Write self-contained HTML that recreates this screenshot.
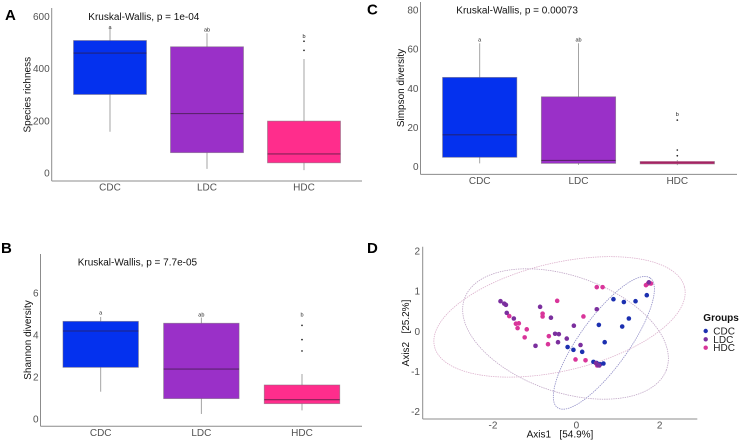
<!DOCTYPE html>
<html>
<head>
<meta charset="utf-8">
<style>
html,body{margin:0;padding:0;background:#fff;}
svg{display:block;font-family:"Liberation Sans",sans-serif;filter:blur(0.35px);}
.tick{font-size:10px;fill:#525252;}
.title{font-size:10px;fill:#111;}
.axt{font-size:10px;fill:#111;}
.lab{font-size:15px;font-weight:bold;fill:#000;}
</style>
</head>
<body>
<svg id="fig" width="740" height="441" viewBox="0 0 740 441" xmlns="http://www.w3.org/2000/svg">
  <rect width="740" height="441" fill="#fff"/>
  <text class="lab" x="5" y="20">A</text>
  <text class="lab" x="1" y="253">B</text>
  <text class="lab" x="367" y="14.5">C</text>
  <text class="lab" x="367" y="253">D</text>

  <text class="title" x="88.3" y="20">Kruskal-Wallis, p = 1e-04</text>
  <text class="title" x="77.7" y="265.5">Kruskal-Wallis, p = 7.7e-05</text>
  <text class="title" x="456.3" y="13.5">Kruskal-Wallis, p = 0.00073</text>

  <text class="axt" text-anchor="middle" transform="translate(30.5,94.7) rotate(-90)">Species richness</text>
  <text class="axt" text-anchor="middle" transform="translate(31,340) rotate(-90)">Shannon diversity</text>
  <text class="axt" text-anchor="middle" transform="translate(404,88) rotate(-90)">Simpson diversity</text>
  <text class="axt" text-anchor="middle" transform="translate(409,333) rotate(-90)" xml:space="preserve">Axis2   [25.2%]</text>
  <text class="axt" text-anchor="middle" x="560" y="437.5" xml:space="preserve">Axis1   [54.9%]</text>

  <g id="legend">
    <text x="703.3" y="321" font-size="10" font-weight="bold" fill="#111">Groups</text>
    <circle cx="705.7" cy="331" r="2.2" fill="#1c30b0"/>
    <text x="713.3" y="334.5" font-size="10" fill="#222">CDC</text>
    <circle cx="705.7" cy="339.3" r="2.2" fill="#7b2f9e"/>
    <text x="713.3" y="342.8" font-size="10" fill="#222">LDC</text>
    <circle cx="705.7" cy="347.7" r="2.2" fill="#d9359a"/>
    <text x="713.3" y="351.2" font-size="10" fill="#222">HDC</text>
  </g>
</svg>
<script>
// Box plot data
const categories = ['CDC', 'LDC', 'HDC'];

const richnessTicks = [0, 200, 400, 600];
const richnessLow = [158, 16, 11];
const richnessQ1 = [301, 78, 39];
const richnessMedian = [460, 228, 73];
const richnessQ3 = [508, 484, 199];
const richnessHigh = [553, 536, 437];
const richnessOutliers = [[], [], [470, 505]];
const richnessLetters = ['a', 'ab', 'b'];

const shannonTicks = [0, 2, 4, 6];
const shannonLow = [1.3, 0.24, 0.41];
const shannonQ1 = [2.46, 0.97, 0.73];
const shannonMedian = [4.19, 2.38, 0.92];
const shannonQ3 = [4.65, 4.56, 1.62];
const shannonHigh = [4.86, 4.83, 2.14];
const shannonOutliers = [[], [], [3.24, 3.78, 4.46]];
const shannonLetters = ['a', 'ab', 'b'];

const simpsonTicks = [0, 20, 40, 60, 80];
const simpsonLow = [1.7, 0.9, 0.8];
const simpsonQ1 = [4.8, 1.7, 1.4];
const simpsonMedian = [16.3, 3.2, 2.0];
const simpsonQ3 = [45.6, 35.7, 2.7];
const simpsonHigh = [63, 63, 3.4];
const simpsonOutliers = [[], [], [5.6, 8.5, 23.8]];
const simpsonLetters = ['a', 'ab', 'b'];

// Ordination data
const ordinationXTicks = [-2, 0, 2];
const ordinationYTicks = [-2, -1, 0, 1, 2];
const cdcAxis1 = [0.89, 1.14, 1.42, 1.69, 0.54, 1.26, 1.10, 0.68, -0.21, -0.07, 0.14, 0.41, 0.57, 0.65, 0.49];
const cdcAxis2 = [0.80, 0.73, 0.75, 0.90, 0.16, 0.32, 0.12, -0.27, -0.39, -0.46, -0.51, -0.76, -0.82, -0.80, -0.79];
const ldcAxis1 = [-1.82, -1.73, -1.69, -1.67, -1.50, -0.87, -0.61, 0.49, -0.06, -0.23, -0.51, -0.42, -0.44, -0.98, 0.10, 0.47, 0.52, 0.55, 1.74];
const ldcAxis2 = [0.75, 0.69, 0.66, 0.46, 0.32, 0.61, 0.34, 0.55, 0.14, -0.18, -0.06, -0.07, -0.27, -0.36, -0.34, -0.79, -0.84, -0.85, 1.22];
const hdcAxis1 = [-0.46, 0.49, 0.63, 1.67, 1.72, 1.79, -1.61, -1.45, -1.38, -1.41, -1.19, -1.24, -0.81, -0.81, 0.17, -0.66, -0.68, -0.02, 0.22, 0.50];
const hdcAxis2 = [0.76, 1.10, 1.10, 1.15, 1.19, 1.19, 0.38, 0.19, 0.20, 0.08, 0.05, -0.15, 0.44, 0.37, 0.37, -0.12, -0.32, -0.70, -0.72, -0.85];
// Confidence ellipses: centre axis1, centre axis2, semi-major, semi-minor, tilt in degrees
const cdcEllipse = [0.66, -0.286, 1.96, 0.60, 55.6];
const ldcEllipse = [-0.26, -0.066, 2.58, 1.44, -20.5];
const hdcEllipse = [-0.404, 0.36, 3.09, 1.34, 14];

const SVGNS = 'http://www.w3.org/2000/svg';
const fig = document.getElementById('fig');
const boxFill = ['#0431ee', '#9a30c8', '#ff2d8c'];

function mk(tag, parent, attrs) {
  const el = document.createElementNS(SVGNS, tag);
  for (const k in attrs) el.setAttribute(k, attrs[k]);
  parent.appendChild(el);
  return el;
}
function linear(d0, d1, r0, r1) {
  return v => r0 + (v - d0) * (r1 - r0) / (d1 - d0);
}
function drawAxes(g, key, left, top, bottom, right) {
  const yl = mk('line', g, {x1: left, x2: left, y1: top, y2: bottom, stroke: '#8c8c8c', 'stroke-width': 1});
  
  
  const xl = mk('line', g, {x1: left, x2: right, y1: bottom, y2: bottom, stroke: '#8c8c8c', 'stroke-width': 1});
  
  
}
function drawBoxPanel(p) {
  const g = mk('g', fig, {});
  
  
  const x = linear(0, 2, p.x0, p.x2);
  const y = linear(p.ticks[0], p.ticks[p.ticks.length - 1], p.yBase, p.yTop);
  drawAxes(g, p.key, p.left, p.axisTop, p.axisBottom, p.right);
  p.ticks.forEach(t => {
    const tl = mk('text', g, {x: p.left - 2, y: y(t) + 3.5, 'text-anchor': 'end', class: 'tick'});
    
    
    tl.textContent = t;
  });
  categories.forEach((c, i) => {
    const cx = x(i);
    const tl = mk('text', g, {x: cx, y: p.labelY, 'text-anchor': 'middle', class: 'tick'});
    
    
    tl.textContent = c;

    const wh = mk('line', g, {x1: cx, x2: cx, y1: y(p.low[i]), y2: y(p.high[i]), stroke: '#9a9a9a', 'stroke-width': 0.9});
    
    

    const box = mk('rect', g, {x: cx - p.bw / 2, y: y(p.q3[i]), width: p.bw, height: y(p.q1[i]) - y(p.q3[i]), fill: boxFill[i], stroke: 'rgba(120,110,120,0.6)', 'stroke-width': 0.8});
    
    

    const med = mk('line', g, {x1: cx - p.bw / 2, x2: cx + p.bw / 2, y1: y(p.median[i]), y2: y(p.median[i]), stroke: 'rgba(50,25,50,0.6)', 'stroke-width': 1.1});
    
    

    p.outliers[i].forEach(v => {
      const o = mk('circle', g, {cx: cx, cy: y(v), r: 0.85, fill: '#222'});
      
      
    });

    const lt = mk('text', g, {x: cx, y: p.letterY[i], 'text-anchor': 'middle', 'font-size': 5.5, fill: '#222'});
    
    
    lt.textContent = p.letters[i];
  });
}

drawBoxPanel({key: 'a', ticks: richnessTicks, low: richnessLow, q1: richnessQ1, median: richnessMedian, q3: richnessQ3, high: richnessHigh, outliers: richnessOutliers, letters: richnessLetters,
  x0: 110, x2: 304, bw: 73, yBase: 173, yTop: 16.5, left: 51.7, right: 362, axisTop: 8, axisBottom: 181, labelY: 190.5, letterY: [29, 31.5, 38]});
drawBoxPanel({key: 'b', ticks: shannonTicks, low: shannonLow, q1: shannonQ1, median: shannonMedian, q3: shannonQ3, high: shannonHigh, outliers: shannonOutliers, letters: shannonLetters,
  x0: 100.7, x2: 302, bw: 75.5, yBase: 419, yTop: 293, left: 40.5, right: 362, axisTop: 254, axisBottom: 426.3, labelY: 436, letterY: [314.5, 316.5, 316.5]});
drawBoxPanel({key: 'c', ticks: simpsonTicks, low: simpsonLow, q1: simpsonQ1, median: simpsonMedian, q3: simpsonQ3, high: simpsonHigh, outliers: simpsonOutliers, letters: simpsonLetters,
  x0: 479.7, x2: 677.3, bw: 74.3, yBase: 166.7, yTop: 10, left: 420.5, right: 737, axisTop: 2, axisBottom: 174.4, labelY: 184, letterY: [41.5, 41.5, 116]});

// Panel D
const gD = mk('g', fig, {});


const ordX = linear(-2, 2, 493, 659.7);
const ordY = linear(-2, 2, 411.7, 251);
drawAxes(gD, 'd', 422.7, 246.7, 419, 697.3);
ordinationYTicks.forEach(t => {
  const tl = mk('text', gD, {x: 420, y: ordY(t) + 3.5, 'text-anchor': 'end', class: 'tick'});
  
  
  tl.textContent = t;
});
ordinationXTicks.forEach(t => {
  const tl = mk('text', gD, {x: ordX(t), y: 428.5, 'text-anchor': 'middle', class: 'tick'});
  
  
  tl.textContent = t;
});
function drawEllipse(params, colour, group) {
  const rad = params[4] * Math.PI / 180;
  let d = '';
  for (let k = 0; k <= 120; k++) {
    const t = k / 120 * 2 * Math.PI;
    const ex = params[0] + params[2] * Math.cos(t) * Math.cos(rad) - params[3] * Math.sin(t) * Math.sin(rad);
    const ey = params[1] + params[2] * Math.cos(t) * Math.sin(rad) + params[3] * Math.sin(t) * Math.cos(rad);
    d += (k ? 'L' : 'M') + ordX(ex).toFixed(2) + ' ' + ordY(ey).toFixed(2);
  }
  const el = mk('path', gD, {d: d + 'Z', fill: 'none', stroke: colour, 'stroke-width': 0.8, 'stroke-dasharray': '1.4 0.9'});
  
  
}
drawEllipse(hdcEllipse, '#dcb0cc', 'hdc');
drawEllipse(ldcEllipse, '#c0a6c6', 'ldc');
drawEllipse(cdcEllipse, '#8f8cc6', 'cdc');
function drawPoints(xs, ys, colour, group) {
  xs.forEach((v, i) => {
    const pt = mk('circle', gD, {cx: ordX(v), cy: ordY(ys[i]), r: 2.3, fill: colour});
    
    
  });
}
drawPoints(cdcAxis1, cdcAxis2, '#1c30b0', 'cdc');
drawPoints(hdcAxis1, hdcAxis2, '#d9359a', 'hdc');
drawPoints(ldcAxis1, ldcAxis2, '#7b2f9e', 'ldc');
</script>
</body>
</html>
